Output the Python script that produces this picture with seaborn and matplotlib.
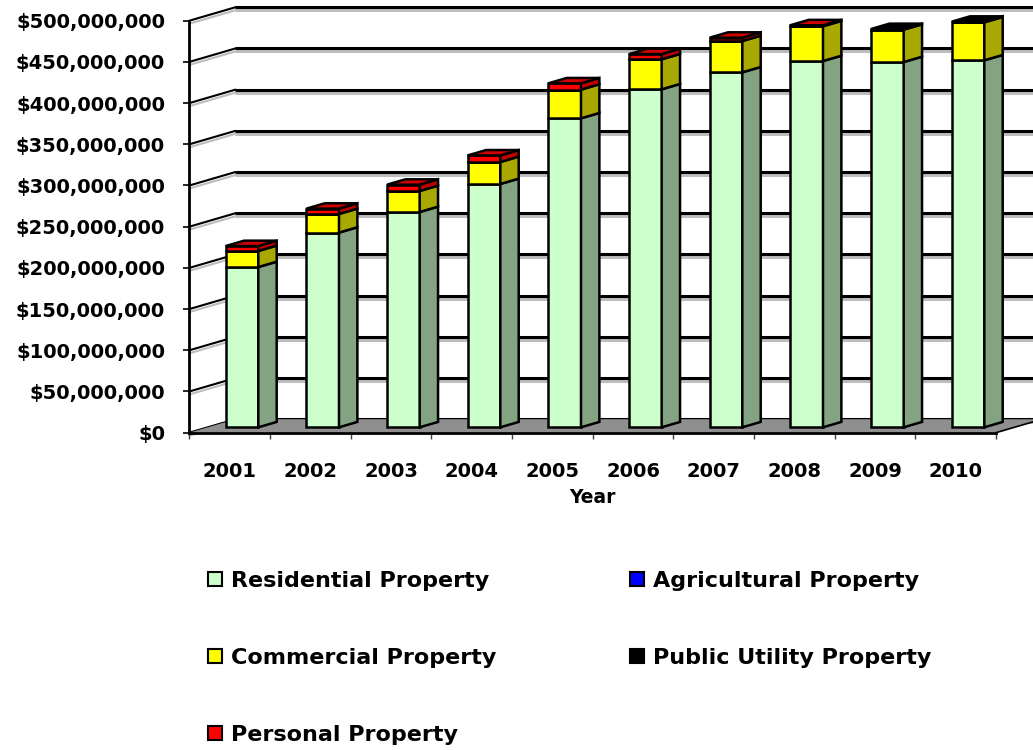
import numpy as np
import pandas as pd
import matplotlib
matplotlib.use("Agg")
import matplotlib.pyplot as plt
import seaborn as sns
from matplotlib.patches import Polygon, Patch
from matplotlib import transforms
from matplotlib.ticker import FuncFormatter

# ---------------- data (millions of dollars) ----------------
years = ["2001", "2002", "2003", "2004", "2005", "2006", "2007", "2008", "2009", "2010"]
residential = [194.5, 236.3, 261.3, 295.3, 375.0, 410.2, 430.8, 444.5, 443.3, 445.4]
agricultural = [0, 0, 0, 0, 0, 0, 0, 0, 0, 0]
commercial = [19.5, 22.6, 25.5, 26.7, 34.8, 36.4, 38.0, 42.2, 39.3, 46.1]
public_utility = [0, 0, 0, 0, 0, 0, 0, 0, 0.8, 0.8]
personal = [6.0, 6.5, 7.7, 8.0, 7.7, 6.4, 4.1, 1.3, 0, 0]
series_names = ["Residential Property", "Agricultural Property", "Commercial Property",
                "Public Utility Property", "Personal Property"]
y_ticks = [0, 50, 100, 150, 200, 250, 300, 350, 400, 450, 500]

series_values = [residential, agricultural, commercial, public_utility, personal]
front_colors = ["#CCFFCC", "#0000FF", "#FFFF00", "#000000", "#FF0000"]
side_colors = ["#83A383", "#0000A0", "#A8A800", "#000000", "#C00000"]
cap_colors = ["#A8D8A8", "#0000C8", "#D0D000", "#000000", "#D40000"]

sns.set_theme(style="white")
plt.rcParams["font.family"] = ["DejaVu Sans"]
plt.rcParams["font.weight"] = "bold"
plt.rcParams["text.color"] = "black"
plt.rcParams["axes.labelcolor"] = "black"
plt.rcParams["xtick.color"] = "black"
plt.rcParams["ytick.color"] = "black"

fig = plt.figure(figsize=(10.33, 7.5), dpi=100)
ax = fig.add_axes([0.1833, 0.4231, 0.7809, 0.5493])

# 3D geometry (depth in x-units / value-units)
DX, DY = 0.570, 16.3
F = 0.40          # depth fraction of bar front face
BD = 0.40         # bar depth fraction
BW = 0.404        # bar width
x0, x1 = -0.653, 9.347
ddx, ddy = BD * DX, BD * DY
base = F * DY

shadow = transforms.offset_copy(ax.transData, fig=fig, x=0, y=-3, units="dots")

# back wall + side wall gridlines
for v in y_ticks:
    for tr, col, z in [(shadow, "#BDBDBD", 0.4), (ax.transData, "black", 0.5)]:
        ax.plot([x0 + DX, x1 + DX + 0.5], [v + DY, v + DY], color=col, lw=2.2,
                transform=tr, clip_on=False, zorder=z, solid_capstyle="butt")
        ax.plot([x0, x0 + DX], [v, v + DY], color=col, lw=1.5,
                transform=tr, clip_on=False, zorder=z)

# floor
floor = Polygon([(x0, 0), (x1, 0), (x1 + DX, DY), (x0 + DX, DY)], closed=True,
                facecolor="#8F8F8F", edgecolor="none", zorder=1, clip_on=False)
ax.add_patch(floor)
ax.plot([x1, x1 + DX], [0, DY], color="black", lw=1.2, clip_on=False, zorder=1.1)

# stacked bars (front faces) with seaborn
bottoms = np.full(len(years), base)
for vals, fc in zip(series_values, front_colors):
    vals = np.asarray(vals, dtype=float)
    if vals.sum() > 0:
        sns.barplot(x=years, y=vals, bottom=bottoms.copy(), color=fc, edgecolor="black",
                    linewidth=1.8, width=BW, errorbar=None, zorder=3, clip_on=False,
                    saturation=1, ax=ax)
    bottoms = bottoms + vals

# side faces and top caps
for i in range(len(years)):
    b = base
    top_idx = None
    for k, vals in enumerate(series_values):
        v = vals[i]
        if v <= 0:
            continue
        t = b + v
        xr = i + BW / 2
        side = Polygon([(xr, b), (xr + ddx, b + ddy), (xr + ddx, t + ddy), (xr, t)], closed=True,
                       facecolor=side_colors[k], edgecolor="black", linewidth=1.8,
                       zorder=3, clip_on=False, joinstyle="miter")
        ax.add_patch(side)
        top_idx = k
        b = t
    xl = i - BW / 2
    xr = i + BW / 2
    cap = Polygon([(xl, b), (xl + ddx, b + ddy), (xr + ddx, b + ddy), (xr, b)], closed=True,
                  facecolor=cap_colors[top_idx], edgecolor="black", linewidth=1.8,
                  zorder=3.1, clip_on=False)
    ax.add_patch(cap)

# axes
ax.set_xlim(x0, x1)
ax.set_ylim(0, 500)
ax.patch.set_visible(False)
ax.set_xticks(np.arange(len(years)) - 0.153)
ax.set_xticklabels(years, fontsize=14, fontweight="bold", color="black")
ax.set_xticks(np.arange(len(years) + 1) + x0, minor=True)
ax.tick_params(axis="x", which="major", length=0, pad=21)
ax.tick_params(axis="x", which="minor", length=4.5, width=1, color="#404040", direction="out", bottom=True)
ax.set_yticks(y_ticks)
ax.yaxis.set_major_formatter(FuncFormatter(lambda v, p: "${:,.0f}".format(v * 1e6)))
ax.tick_params(axis="y", length=4.5, width=1.2, color="black", labelcolor="black",
               pad=13, labelsize=14, left=True)
for lab in ax.get_yticklabels():
    lab.set_fontweight("bold")
ax.set_xlabel("Year", fontsize=13.5, fontweight="bold", labelpad=5, color="black")
ax.set_ylabel("")
for s in ["top", "right"]:
    ax.spines[s].set_visible(False)
ax.spines["left"].set_color("black")
ax.spines["left"].set_linewidth(2)
ax.spines["bottom"].set_color("black")
ax.spines["bottom"].set_linewidth(2)
ax.grid(False)

# legend (column-wise fill: Res, Comm, Pers | Agri, PU)
order = [0, 2, 4, 1, 3]
handles = [Patch(facecolor=front_colors[k], edgecolor="black", linewidth=1.5) for k in order]
labels = [series_names[k] for k in order]
fig.legend(handles, labels, loc="upper left", bbox_to_anchor=(0.2014, 0.239), ncol=2,
           frameon=False, borderpad=0, borderaxespad=0, handlelength=0.63, handleheight=0.63,
           handletextpad=0.4, labelspacing=2.57, columnspacing=6.0,
           prop={"size": 16, "weight": "bold"}, labelcolor="black")

fig.savefig("out.png", dpi=100)
